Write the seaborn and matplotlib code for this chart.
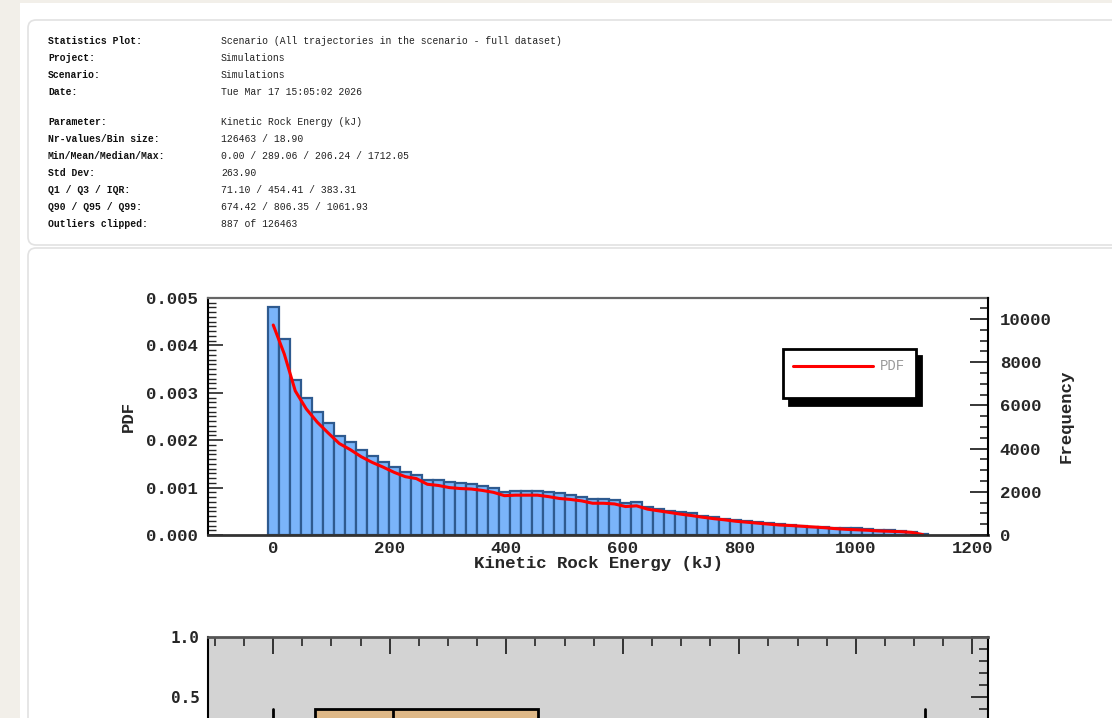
import numpy as np
import matplotlib
matplotlib.use("Agg")
import matplotlib.pyplot as plt
import seaborn as sns
from matplotlib.lines import Line2D
from matplotlib.patches import FancyBboxPatch, Rectangle
from matplotlib.ticker import MultipleLocator, FormatStrFormatter

# --- stats panel text ---
stat_labels = ["Statistics Plot:", "Project:", "Scenario:", "Date:",
               "Parameter:", "Nr-values/Bin size:", "Min/Mean/Median/Max:",
               "Std Dev:", "Q1 / Q3 / IQR:", "Q90 / Q95 / Q99:", "Outliers clipped:"]
stat_values = ["Scenario (All trajectories in the scenario - full dataset)",
               "Simulations", "Simulations", "Tue Mar 17 15:05:02 2026",
               "Kinetic Rock Energy (kJ)", "126463 / 18.90",
               "0.00 / 289.06 / 206.24 / 1712.05", "263.90",
               "71.10 / 454.41 / 383.31", "674.42 / 806.35 / 1061.93",
               "887 of 126463"]

# --- histogram (PDF, x 1e-3), one value per bin, bins centred on k * bin_size ---
bin_size = 18.90
pdf_bars = [4.80, 4.14, 3.28, 2.88, 2.60, 2.36, 2.08, 1.97, 1.79, 1.66,
            1.55, 1.43, 1.33, 1.27, 1.16, 1.15, 1.11, 1.09, 1.08, 1.04,
            0.99, 0.90, 0.93, 0.93, 0.93, 0.90, 0.88, 0.84, 0.81, 0.75,
            0.75, 0.73, 0.68, 0.69, 0.60, 0.55, 0.515, 0.475, 0.46, 0.40,
            0.375, 0.34, 0.32, 0.30, 0.275, 0.25, 0.23, 0.21, 0.19, 0.175,
            0.165, 0.155, 0.15, 0.14, 0.125, 0.105, 0.10, 0.08, 0.07, 0.03]
pdf_line = [4.43, 3.82, 3.04, 2.66, 2.38, 2.15, 1.93, 1.80, 1.65, 1.53,
            1.43, 1.32, 1.23, 1.19, 1.07, 1.045, 1.00, 0.98, 0.97, 0.94,
            0.90, 0.83, 0.84, 0.84, 0.84, 0.81, 0.77, 0.75, 0.72, 0.67,
            0.67, 0.655, 0.60, 0.615, 0.545, 0.51, 0.475, 0.44, 0.41, 0.375,
            0.345, 0.32, 0.29, 0.27, 0.25, 0.23, 0.21, 0.20, 0.185, 0.17,
            0.155, 0.135, 0.12, 0.11, 0.10, 0.085, 0.078, 0.07, 0.055, 0.008]
freq_max = 10977

# --- box plot ---
box_q1, box_med, box_q3 = 71.10, 206.24, 454.41
whisker_lo, whisker_hi = 0.0, 1119.0
box_yticks = [-1.0, -0.5, 0.0, 0.5, 1.0]
box_ylabels = ['', '', '', '0.5', '1.0']   # lower ones fall below the page

sns.set_style("white")
plt.rcParams['font.family'] = ['Liberation Mono', 'DejaVu Sans']
plt.rcParams['font.weight'] = 'bold'
plt.rcParams['axes.labelweight'] = 'bold'

W, H = 1112, 718
fig = plt.figure(figsize=(W / 100, H / 100), dpi=100)
fig.patch.set_facecolor('white')

# page background bits
fig.add_artist(Rectangle((0, 0), 20 / W, 1, transform=fig.transFigure,
                         facecolor='#f2efe9', edgecolor='none', zorder=-5))
fig.add_artist(Rectangle((0, 1 - 3 / H), 1, 3 / H, transform=fig.transFigure,
                         facecolor='#f2efe9', edgecolor='none', zorder=-5))
for top, bot in [(20, 245), (248, 790)]:
    card = FancyBboxPatch((28 / 100, (H - bot) / 100), 11.2, (bot - top) / 100,
                          boxstyle="round,pad=0,rounding_size=0.08",
                          transform=fig.dpi_scale_trans, facecolor='white',
                          edgecolor='#e2e2e2', linewidth=1.2, zorder=-4)
    fig.add_artist(card)

# stats text
for i, (lab, val) in enumerate(zip(stat_labels, stat_values)):
    y = 41 + 17 * i + (13 if i >= 4 else 0)
    fig.text(48 / W, 1 - y / H, lab, fontsize=7.05, weight='bold', va='center', color='#111')
    fig.text(221 / W, 1 - y / H, val, fontsize=7.05, weight='normal', va='center', color='#222')

# --- histogram axes ---
ax = fig.add_axes([208 / W, (H - 535) / H, 780 / W, 237 / H])
ax.set_facecolor('white')
centers = np.arange(len(pdf_bars)) * bin_size
edges = ((np.arange(len(pdf_bars) + 1) - 0.5) * bin_size).tolist()
sns.histplot(x=centers, weights=np.array(pdf_bars) * 1e-3, bins=edges, ax=ax,
             color='#7ab4fa', edgecolor='#2e5a8f', linewidth=1.6, alpha=1)
sns.lineplot(x=centers, y=np.array(pdf_line) * 1e-3, ax=ax, color='#ff0000', lw=2.2)

ax.set_xlim(-112, 1227)
ax.set_ylim(0, 0.005)
ax.xaxis.set_major_locator(MultipleLocator(200))
ax.xaxis.set_minor_locator(MultipleLocator(50))
ax.yaxis.set_major_locator(MultipleLocator(0.001))
ax.yaxis.set_minor_locator(MultipleLocator(0.0001))
ax.yaxis.set_major_formatter(FormatStrFormatter('%.3f'))
ax.tick_params(axis='x', which='major', direction='in', length=12, width=1.3,
               labelsize=12.5, pad=4, top=False)
ax.tick_params(axis='x', which='minor', direction='in', length=5.8, width=1.2, top=False)
ax.tick_params(axis='y', which='major', direction='in', length=11, width=1.2,
               labelsize=12.5, pad=7, right=False)
ax.tick_params(axis='y', which='minor', direction='in', length=5.4, width=1.0, right=False)
ax.set_xlabel('Kinetic Rock Energy (kJ)', fontsize=12.5, fontweight='bold')
ax.set_ylabel('PDF', fontsize=12.5, fontweight='bold')
ax.xaxis.set_label_coords(0.5, -0.088)
ax.yaxis.set_label_coords(-0.093, 0.5)
ax.spines['left'].set_color('black')
ax.spines['left'].set_linewidth(1.5)
ax.spines['bottom'].set_color('#333333')
ax.spines['bottom'].set_linewidth(2)
ax.spines['top'].set_color('#666666')
ax.spines['top'].set_linewidth(1.6)
ax.spines['right'].set_visible(False)

ax2 = ax.twinx()
ax2.set_ylim(0, freq_max)
ax2.yaxis.set_major_locator(MultipleLocator(2000))
ax2.yaxis.set_minor_locator(MultipleLocator(500))
ax2.yaxis.set_major_formatter(FormatStrFormatter('%d'))
ax2.tick_params(axis='y', which='major', direction='in', length=13, width=1.3,
                labelsize=12.5, pad=8.5)
ax2.tick_params(axis='y', which='minor', direction='in', length=6, width=1.2)
ax2.set_ylabel('Frequency', fontsize=12.5, fontweight='bold')
ax2.yaxis.set_label_coords(1.091, 0.5)
for s in ['left', 'top', 'bottom']:
    ax2.spines[s].set_visible(False)
ax2.spines['right'].set_color('black')
ax2.spines['right'].set_linewidth(1.5)

handles = [Line2D([], [], color='#ff0000', lw=2.2), Line2D([], [], color='none')]
leg = fig.legend(handles, ['PDF', ''], loc='upper left',
                 bbox_to_anchor=(783 / W, 1 - 349 / H), bbox_transform=fig.transFigure,
                 prop={'family': 'Liberation Mono', 'size': 10, 'weight': 'normal'},
                 frameon=True, fancybox=False, framealpha=1,
                 shadow={'ox': 4, 'oy': -5, 'color': 'black', 'alpha': 1},
                 borderpad=0.75, labelspacing=0.0, handlelength=5.7,
                 handletextpad=0.55, borderaxespad=0)
leg.get_frame().set_edgecolor('black')
leg.get_frame().set_linewidth(2)
for t in leg.get_texts():
    t.set_color('#9a9a9a')

# --- box plot axes (mostly below the visible area) ---
bx = fig.add_axes([208 / W, (H - 877) / H, 780 / W, 240 / H])
bx.set_facecolor('#d3d3d3')
stats = [{'med': box_med, 'q1': box_q1, 'q3': box_q3,
          'whislo': whisker_lo, 'whishi': whisker_hi, 'fliers': []}]
bx.bxp(stats, positions=[0], widths=0.8, capwidths=0.8, orientation='horizontal',
       patch_artist=True, showfliers=False,
       boxprops={'facecolor': '#deb887', 'edgecolor': 'black', 'linewidth': 2},
       medianprops={'color': 'black', 'linewidth': 2},
       whiskerprops={'color': 'black', 'linewidth': 2},
       capprops={'color': 'black', 'linewidth': 2})
bx.set_xlim(-112, 1227)
bx.set_ylim(-1, 1)
bx.xaxis.set_major_locator(MultipleLocator(200))
bx.xaxis.set_minor_locator(MultipleLocator(50))
bx.set_yticks(box_yticks, labels=box_ylabels)
bx.yaxis.set_minor_locator(MultipleLocator(0.1))
bx.tick_params(which='major', direction='in', length=12, width=1.3,
               top=True, right=True, labelsize=11.5, pad=6, labelbottom=False)
bx.tick_params(which='minor', direction='in', length=6.5, width=1.2, top=True, right=True)
for lab in bx.get_yticklabels():
    lab.set_fontfamily('DejaVu Sans Mono')
bx.spines['top'].set_color('#555555')
bx.spines['top'].set_linewidth(2)
for s in ['left', 'right', 'bottom']:
    bx.spines[s].set_color('black')
    bx.spines[s].set_linewidth(1.5)

fig.savefig('out.png', dpi=100)
